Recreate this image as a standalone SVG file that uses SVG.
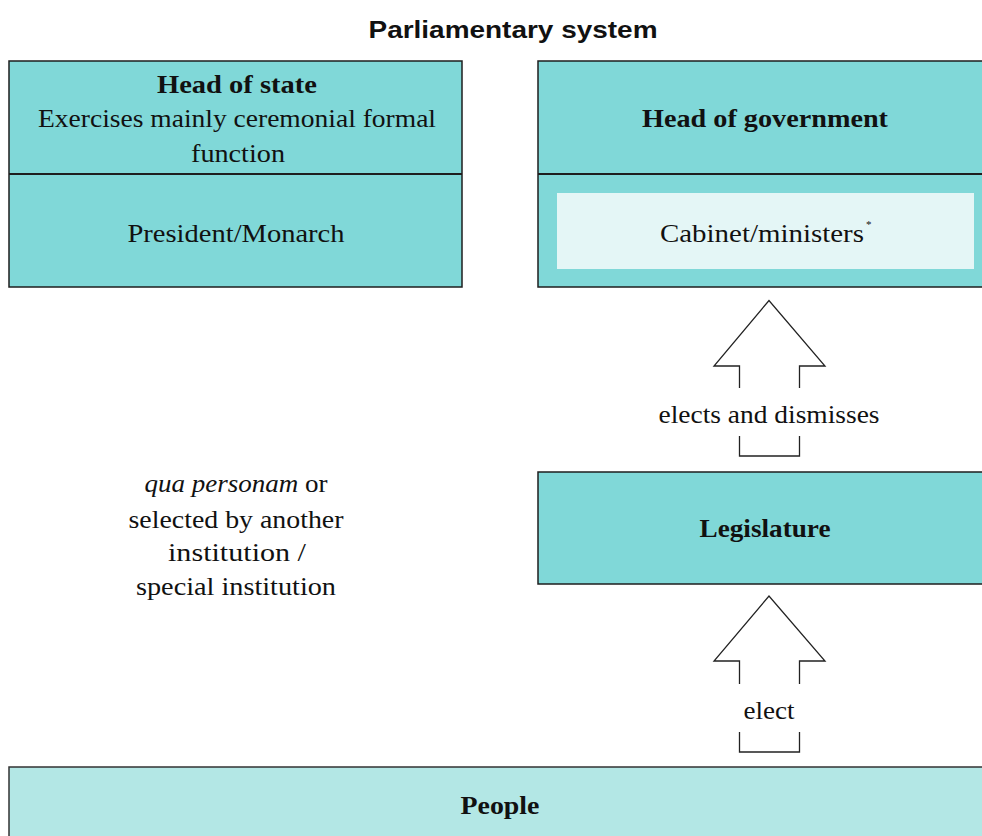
<svg xmlns="http://www.w3.org/2000/svg" width="982" height="836" viewBox="0 0 982 836">
<style>
.box{fill:#80d8d8;stroke:#1e1e1e;stroke-width:1.5}
.ppl{fill:#b3e7e5;stroke:#333;stroke-width:1.5}
.inner{fill:#e4f6f6}
.t{font-family:"Liberation Serif","Times New Roman",serif;font-size:25px;fill:#111;text-anchor:middle}
.b{font-weight:bold}
.title{font-family:"Liberation Sans",Arial,sans-serif;font-size:24px;font-weight:bold;fill:#111;text-anchor:middle}
.arr{fill:none;stroke:#222;stroke-width:1.3}
</style>
<rect width="982" height="836" fill="#fff"/>
<text class="title" x="513" y="38" textLength="289" lengthAdjust="spacingAndGlyphs">Parliamentary system</text>
<g id="head-of-state">
<rect class="box" x="9" y="61" width="453" height="226"/>
<line x1="9" y1="174" x2="462" y2="174" stroke="#1e1e1e" stroke-width="2"/>
<text class="t b" x="237" y="93" textLength="160" lengthAdjust="spacingAndGlyphs">Head of state</text>
<text class="t" x="237" y="127" textLength="398" lengthAdjust="spacingAndGlyphs">Exercises mainly ceremonial formal</text>
<text class="t" x="238" y="162" textLength="94" lengthAdjust="spacingAndGlyphs">function</text>
<text class="t" x="236" y="242" textLength="217" lengthAdjust="spacingAndGlyphs">President/Monarch</text>
</g>
<g id="head-of-government">
<rect class="box" x="538" y="61" width="460" height="226"/>
<line x1="538" y1="174" x2="990" y2="174" stroke="#1e1e1e" stroke-width="2"/>
<text class="t b" x="765" y="127" textLength="246" lengthAdjust="spacingAndGlyphs">Head of government</text>
<rect class="inner" x="557" y="193" width="417" height="76"/>
<text class="t" x="762" y="242" textLength="204" lengthAdjust="spacingAndGlyphs">Cabinet/ministers</text>
<text x="866" y="228" font-family="Liberation Serif,serif" font-size="11" fill="#111">*</text>
</g>
<g id="note">
<text class="t" x="236" y="492" textLength="183" lengthAdjust="spacingAndGlyphs"><tspan font-style="italic">qua personam</tspan> or</text>
<text class="t" x="236" y="528" textLength="215" lengthAdjust="spacingAndGlyphs">selected by another</text>
<text class="t" x="237" y="561" textLength="138" lengthAdjust="spacingAndGlyphs">institution /</text>
<text class="t" x="236" y="595" textLength="200" lengthAdjust="spacingAndGlyphs">special institution</text>
</g>
<g id="legislature">
<rect class="box" x="538" y="472" width="460" height="112"/>
<text class="t b" x="765" y="537" textLength="131" lengthAdjust="spacingAndGlyphs">Legislature</text>
</g>
<g id="people">
<rect class="ppl" x="9" y="767" width="990" height="80"/>
<text class="t b" x="500" y="814" textLength="79" lengthAdjust="spacingAndGlyphs">People</text>
</g>
<g id="connectors">
<path class="arr" d="M739.5,388 V366 H714 L769,300.5 L825,366 H799.5 V388"/>
<path class="arr" d="M739.5,436 V456 H799.5 V436"/>
<text class="t" x="769" y="423" textLength="221" lengthAdjust="spacingAndGlyphs">elects and dismisses</text>
<path class="arr" d="M739.5,684 V661 H714 L769,596 L825,661 H799.5 V684"/>
<path class="arr" d="M739.5,732 V752 H799.5 V732"/>
<text class="t" x="769" y="719" textLength="51" lengthAdjust="spacingAndGlyphs">elect</text>
</g>
</svg>
